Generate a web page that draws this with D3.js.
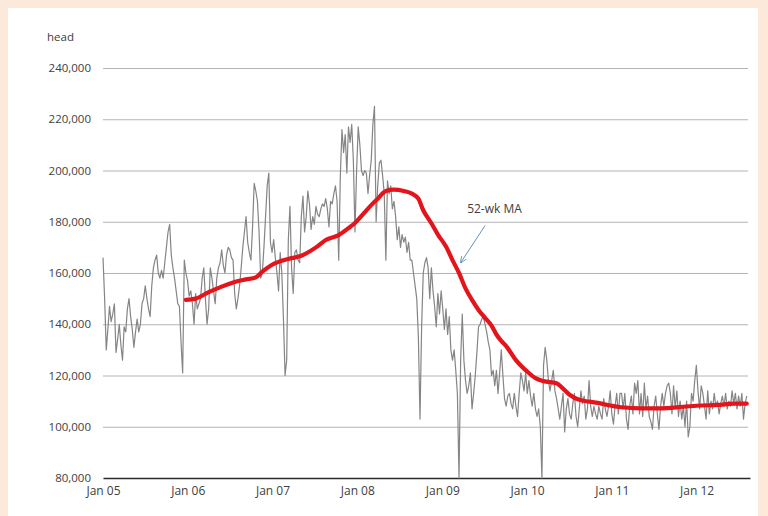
<!DOCTYPE html>
<html>
<head>
<meta charset="utf-8">
<script src="https://cdn.jsdelivr.net/npm/d3@7"></script>
<style>
  html, body { margin: 0; padding: 0; background: #fde9d9; }
  svg { display: block; }
</style>
</head>
<body>
<div id="chart"></div>
<script>
// weekly slaughter, thousand head, first week starts Jan 1 2005
var weekStart = new Date(2005, 0, 1);
var weeklyHead = [
  166,150,130,138,147,141,144,148,129,134, 140,132,126,139,137,146,150,143,138,131,
  137,142,137,140,148,150,155,150,146,143, 155,162,165,167,160,158,161,158,164,170,
  176,179,167,162,158,153,148,147,133,121, 165,160,157,151,153,148,140,152,146,148,
  150,158,162,150,140,146,162,158,153,148, 158,162,164,169,163,160,167,170,169,166,
  165,152,146,150,155,162,170,176,182,172, 168,165,178,195,192,188,176,158,160,170,
  182,194,199,172,168,173,166,160,153,168, 160,142,120,126,173,186,162,152,168,169,
  165,164,182,190,176,182,192,187,177,182, 179,186,183,182,185,187,186,189,185,178,
  188,187,191,194,188,165,198,216,207,214, 199,217,211,218,204,176,200,217,210,200,
  198,200,199,191,198,204,218,225,180,194, 203,204,198,191,165,196,191,194,185,188,
  182,173,178,170,175,172,174,168,172,165, 165,160,155,150,135,103,139,160,164,166,
  162,150,162,153,147,139,152,144,153,146, 138,146,136,143,130,126,130,122,113,80,
  126,144,126,118,113,116,121,107,113,120, 129,139,140,142,143,140,137,133,130,120,
  122,116,122,113,121,130,120,111,108,112, 113,109,107,113,108,104,113,121,118,114,
  121,113,118,112,108,113,107,104,107,100, 80,124,131,126,118,114,118,122,114,111,
  107,103,108,113,98,107,111,105,103,109, 113,104,100,107,114,109,112,103,107,118,
  108,104,108,105,103,108,105,103,111,107, 104,108,114,105,101,108,113,105,113,113,
  107,113,103,99,108,112,105,117,113,118, 105,113,104,117,107,112,104,102,99,108,
  112,105,99,108,113,108,113,116,117,113, 105,116,107,114,104,110,103,108,100,110,
  96,100,113,110,118,124,114,107,116,113, 108,103,114,105,110,107,113,108,110,105,
  109,112,108,113,107,110,108,114,109,113, 107,112,108,113,103,109,112
];

// 52-week moving average (week index, thousand head)
var maWeek = [51,57,65,73,80,88,94,98,104,114,121,131,137,145,151,155,160,165,169,174,179,185,190,194,197,202,206,211,215,219,223,227,231,235,239,242,245,248,254,261,266,271,279,282,287,293,299,306,312,319,331,343,357,368,378,388,396];
var maHead = [149.5,150,152.5,154.7,156.3,157.5,158.3,160.5,163.2,165.5,166.5,170,172.9,174.8,177.5,179.5,183,186.5,189,192,192.5,192,191,189,184.5,179.4,175,170.3,165,160,154,149.5,145.6,142.5,139.5,136,133.5,131.5,126,121.5,119,117.8,117,115.5,112.5,110.5,109.8,109.1,108.3,107.6,107.2,107.2,107.8,108.3,108.5,109,109];

var yTicks = [80, 100, 120, 140, 160, 180, 200, 220, 240];
var xTickYears = [2005, 2006, 2007, 2008, 2009, 2010, 2011, 2012];
var xTickLabels = ["Jan 05", "Jan 06", "Jan 07", "Jan 08", "Jan 09", "Jan 10", "Jan 11", "Jan 12"];
var unitLabel = "head";
var maLabel = "52-wk MA";
// annotation: text at (week, value), arrow from/to (week, value)
var noteText = [224, 183.5];
var noteArrow = [[235, 178.5], [220, 164]];

var W = 768, H = 516;
var margin = {top: 68, right: 18, bottom: 38, left: 103};
var plotW = W - margin.left - margin.right,
    plotH = H - margin.top - margin.bottom;

function weekDate(i) { return d3.timeDay.offset(weekStart, 7 * i); }

var svg = d3.select("#chart")
  .append("svg")
    .attr("width", W)
    .attr("height", H);

// page frame: peach border, white panel
svg.append("rect").attr("width", W).attr("height", H).attr("fill", "#fde9d9");
svg.append("rect").attr("x", 8).attr("y", 8).attr("width", 750).attr("height", H).attr("fill", "#ffffff");

var g = svg.append("g")
  .attr("transform", "translate(" + margin.left + "," + margin.top + ")");

var x = d3.scaleTime()
  .domain([weekStart, weekDate(398)])
  .range([0, plotW]);

var y = d3.scaleLinear()
  .domain([80, 240])
  .range([plotH, 0]);

var font = "'Open Sans', Lato, sans-serif";
var textColor = "#404040";

// y axis with gridlines
var yAxis = g.append("g")
  .call(d3.axisLeft(y)
    .tickValues(yTicks)
    .tickSizeInner(-(plotW - 2))
    .tickSizeOuter(0)
    .tickPadding(12)
    .tickFormat(function(d) { return d3.format(",")(d * 1000); }));
yAxis.select(".domain").remove();
yAxis.selectAll(".tick line")
  .attr("stroke", "#b4b4b4")
  .attr("stroke-width", 1)
  .filter(function(d) { return d === 80; }).remove();
yAxis.selectAll(".tick text")
  .attr("fill", textColor)
  .style("font-family", font)
  .style("font-size", "11.5px");

// x axis
var xAxis = g.append("g")
  .attr("transform", "translate(0," + plotH + ")")
  .call(d3.axisBottom(x)
    .tickValues(xTickYears.map(function(yr) { return new Date(yr, 0, 1); }))
    .tickSize(0)
    .tickPadding(8)
    .tickFormat(function(d, i) { return xTickLabels[i]; }));
xAxis.select(".domain")
  .attr("stroke", "#2b2b2b")
  .attr("stroke-width", 1.5);
xAxis.selectAll(".tick text")
  .attr("fill", textColor)
  .style("font-family", font)
  .style("font-size", "12px");

// unit label
svg.append("text")
  .attr("x", 47)
  .attr("y", 41)
  .attr("fill", textColor)
  .style("font-family", font)
  .style("font-size", "11.5px")
  .text(unitLabel);

// weekly series
var weeklyLine = d3.line()
  .x(function(d, i) { return x(weekDate(i)); })
  .y(function(d) { return y(d); });

g.append("path")
  .datum(weeklyHead)
  .attr("fill", "none")
  .attr("stroke", "#858585")
  .attr("stroke-width", 1.2)
  .attr("stroke-linejoin", "round")
  .attr("d", weeklyLine);

// moving average
var maLine = d3.line()
  .curve(d3.curveMonotoneX)
  .x(function(d, i) { return x(weekDate(maWeek[i])); })
  .y(function(d) { return y(d); });

g.append("path")
  .datum(maHead)
  .attr("fill", "none")
  .attr("stroke", "#e3141b")
  .attr("stroke-width", 4.2)
  .attr("stroke-linecap", "round")
  .attr("stroke-linejoin", "round")
  .attr("d", maLine);

// annotation
svg.append("defs").append("marker")
  .attr("id", "arrow")
  .attr("viewBox", "0 0 10 10")
  .attr("refX", 9).attr("refY", 5)
  .attr("markerWidth", 7).attr("markerHeight", 7)
  .attr("orient", "auto")
  .append("path")
    .attr("d", "M0,1 L10,5 L0,9")
    .attr("fill", "none")
    .attr("stroke", "#6a8fbf")
    .attr("stroke-width", 1.2);

g.append("line")
  .attr("x1", x(weekDate(noteArrow[0][0])))
  .attr("y1", y(noteArrow[0][1]))
  .attr("x2", x(weekDate(noteArrow[1][0])))
  .attr("y2", y(noteArrow[1][1]))
  .attr("stroke", "#6a8fbf")
  .attr("stroke-width", 1)
  .attr("marker-end", "url(#arrow)");

g.append("text")
  .attr("x", x(weekDate(noteText[0])))
  .attr("y", y(noteText[1]))
  .attr("fill", textColor)
  .style("font-family", font)
  .style("font-size", "12px")
  .text(maLabel);
</script>
</body>
</html>
